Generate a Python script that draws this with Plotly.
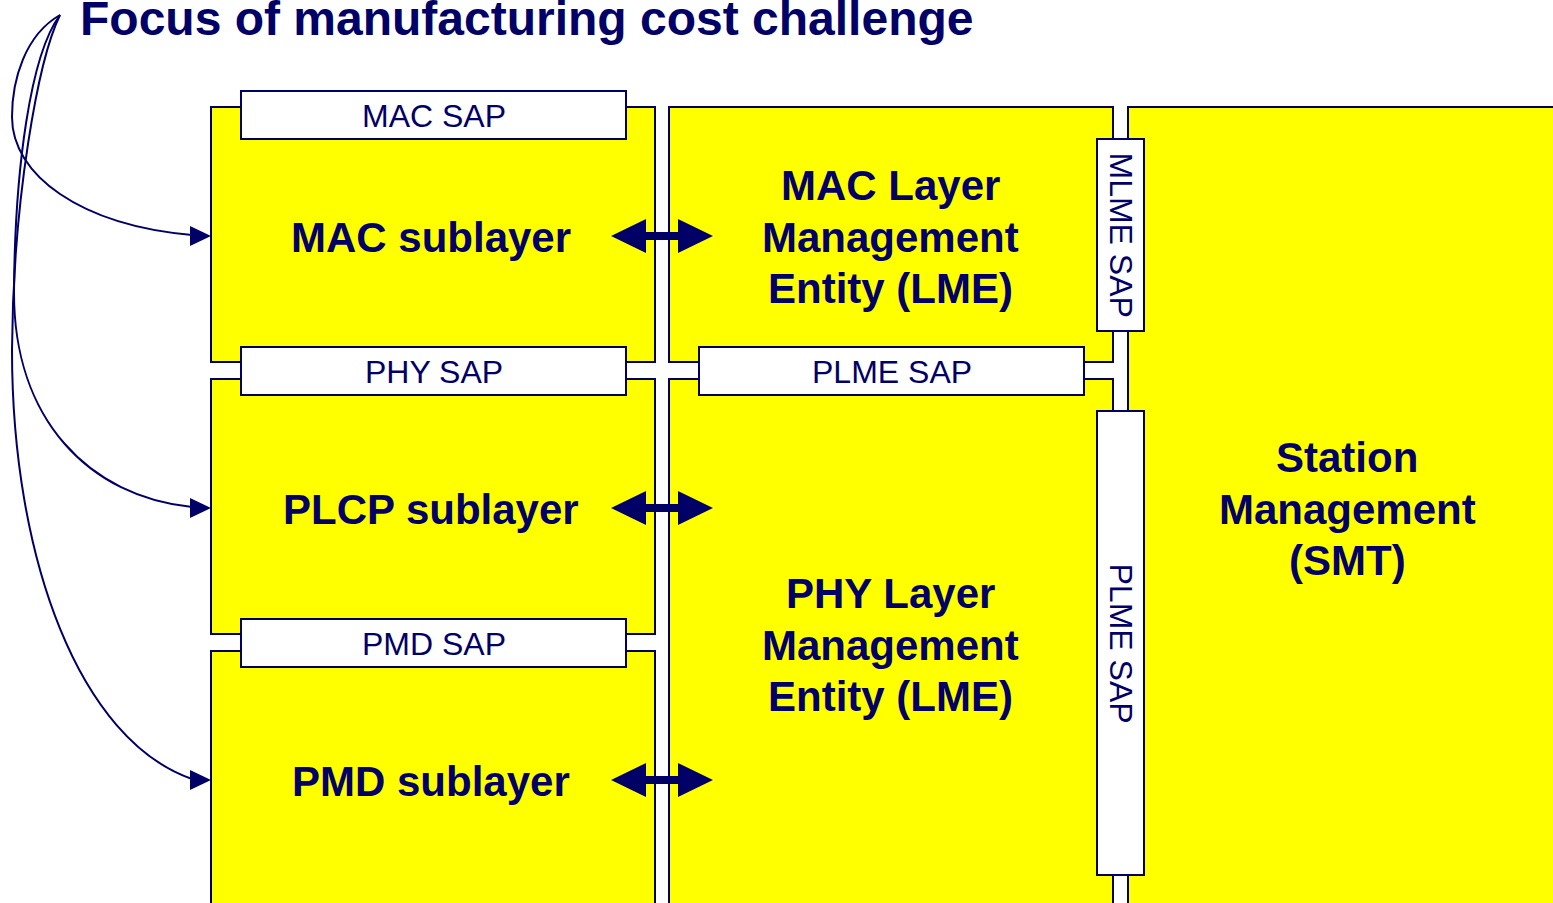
import plotly.graph_objects as go

# ---------------- content ----------------
title = "Focus of manufacturing cost challenge"
sublayers = ["MAC sublayer", "PLCP sublayer", "PMD sublayer"]
mac_lme = ["MAC Layer", "Management", "Entity (LME)"]
phy_lme = ["PHY Layer", "Management", "Entity (LME)"]
smt = ["Station", "Management", "(SMT)"]
sap_h_labels = ["MAC SAP", "PHY SAP", "PMD SAP", "PLME SAP"]
sap_v_labels = ["MLME SAP", "PLME SAP"]

# ---------------- styles ----------------
NAVY = "#000066"
YELLOW = "#FFFF00"
FONT = "Arial, 'Liberation Sans', sans-serif"
W, H = 1553, 903

# ---------------- geometry (pixel space) ----------------
left_col = (211, 655)
mid_col = (669, 1113)
right_col = (1128, 1620)
left_rows = [(107, 362), (379, 634), (651, 960)]
mid_rows = [(107, 362), (379, 960)]
right_rows = [(107, 960)]
sap_h_boxes = [(241, 626, 91, 139), (241, 626, 347, 395),
               (241, 626, 619, 667), (699, 1084, 347, 395)]
sap_v_boxes = [(1097, 1144, 139, 331), (1097, 1144, 411, 875)]
row_text_y = [237, 509, 781]
line_gap = 51.5

fig = go.Figure()
shapes = []
annotations = []


def rect(x0, x1, y0, y1, fill):
    shapes.append(dict(type="rect", xref="x", yref="y", x0=x0, x1=x1, y0=y0, y1=y1,
                       fillcolor=fill, line=dict(color=NAVY, width=2), layer="above"))


for (y0, y1) in left_rows:
    rect(left_col[0], left_col[1], y0, y1, YELLOW)
for (y0, y1) in mid_rows:
    rect(mid_col[0], mid_col[1], y0, y1, YELLOW)
for (y0, y1) in right_rows:
    rect(right_col[0], right_col[1], y0, y1, YELLOW)
for (x0, x1, y0, y1) in sap_h_boxes + sap_v_boxes:
    rect(x0, x1, y0, y1, "white")

# double-headed arrows between sublayers and LME
ax0, ax1, head, hh, sh = 611, 713, 35, 17, 4
for y in row_text_y:
    yc = y - 1
    p = (f"M {ax0},{yc} L {ax0+head},{yc-hh} L {ax0+head},{yc-sh} L {ax1-head},{yc-sh} "
         f"L {ax1-head},{yc-hh} L {ax1},{yc} L {ax1-head},{yc+hh} L {ax1-head},{yc+sh} "
         f"L {ax0+head},{yc+sh} L {ax0+head},{yc+hh} Z")
    shapes.append(dict(type="path", xref="x", yref="y", path=p, fillcolor=NAVY,
                       line=dict(color=NAVY, width=0), layer="above"))

# curved pointers from the title to each sublayer
start = (60, 15)
curves = [
    [(25, 35), (12, 80), (12, 117), (12, 175), (80, 225), (192, 235)],
    [(30, 55), (15, 170), (14, 290), (13, 420), (90, 497), (192, 507)],
    [(38, 60), (13, 200), (12, 350), (12, 560), (80, 740), (192, 779)],
]
for pts in curves:
    path = f"M {start[0]},{start[1]} C " + " ".join(f"{x},{y}" for x, y in pts[:3]) + \
           " C " + " ".join(f"{x},{y}" for x, y in pts[3:])
    shapes.append(dict(type="path", xref="x", yref="y", path=path,
                       line=dict(color=NAVY, width=2), layer="above"))
    tx, ty = 211, pts[-1][1] + 1
    shapes.append(dict(type="path", xref="x", yref="y",
                       path=f"M {tx-21},{ty-10} L {tx},{ty} L {tx-21},{ty+10} Z",
                       fillcolor=NAVY, line=dict(color=NAVY, width=0), layer="above"))


def text(x, y, s, size, bold=False, angle=0):
    annotations.append(dict(x=x, y=y, xref="x", yref="y", showarrow=False,
                            text=f"<b>{s}</b>" if bold else s, textangle=angle,
                            xanchor="center", yanchor="middle",
                            font=dict(family=FONT, size=size, color=NAVY)))


# title (sits tight against the top edge, as in the reference)
annotations.append(dict(x=78, y=18, xref="x", yref="y", showarrow=False,
                        text=f"<b>{title}</b>", xanchor="left", yanchor="middle",
                        font=dict(family=FONT, size=48, color=NAVY)))

for s, y in zip(sublayers, row_text_y):
    text(431, y, s, 42, bold=True)


def block(lines, cx, cy):
    for i, s in enumerate(lines):
        text(cx, cy + (i - 1) * line_gap, s, 42, bold=True)


block(mac_lme, 890, 237)
block(phy_lme, 890, 645)
block(smt, 1347, 509)

for s, (x0, x1, y0, y1) in zip(sap_h_labels, sap_h_boxes):
    text((x0 + x1) / 2, (y0 + y1) / 2 + 1, s, 32)
for s, (x0, x1, y0, y1) in zip(sap_v_labels, sap_v_boxes):
    text((x0 + x1) / 2, (y0 + y1) / 2, s, 32, angle=90)

fig.update_layout(
    width=W, height=H, autosize=False,
    margin=dict(l=0, r=0, t=0, b=0, pad=0),
    paper_bgcolor="white", plot_bgcolor="white",
    xaxis=dict(range=[0, W], visible=False, fixedrange=True),
    yaxis=dict(range=[H, 0], visible=False, fixedrange=True),
    shapes=shapes, annotations=annotations, showlegend=False,
)

fig.write_html("out.html", config={"displayModeBar": False},
               post_script="document.body.style.margin='0';"
                           "document.body.style.overflow='hidden';")
